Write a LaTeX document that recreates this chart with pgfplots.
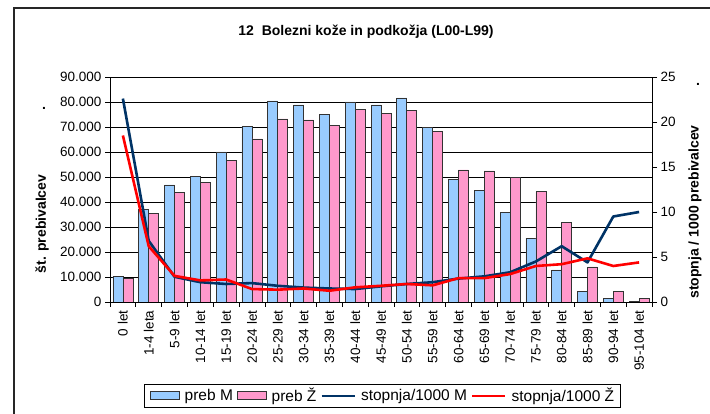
\documentclass[border=0pt]{standalone}
\usepackage{pgfplots}
\pgfplotsset{compat=1.18}
\usepackage{fontspec}
\setmainfont{Liberation Sans}
\definecolor{mblue}{HTML}{99CCFF}
\definecolor{fpink}{HTML}{FF99CC}
\definecolor{navy}{HTML}{003366}
\newcommand{\fs}{\fontsize{13.5}{16}\selectfont}
\pgfplotsset{
  barleg/.style={legend image code/.code={\draw[##1] (0pt,-4pt) rectangle (29pt,4pt);}},
  lineleg/.style={legend image code/.code={\draw[##1] (0pt,0pt) -- (33pt,0pt);}},
}
\begin{document}
\begin{tikzpicture}[x=1pt,y=1pt]
\useasboundingbox (0,0) rectangle (710,414);
\draw[line width=1.2pt, black!85] (14,-2) -- (14,406) -- (712,406);
\node[font=\fontsize{14}{16}\selectfont\bfseries] at (366,382) {12\ \ Bolezni kože in podkožja (L00-L99)};
\node[font=\fontsize{14}{16}\selectfont\bfseries, rotate=90] at (42,190) {št. prebivalcev};
\node[font=\fontsize{14}{16}\selectfont\bfseries] at (44,306) {.};
\node[font=\fontsize{14}{16}\selectfont\bfseries, rotate=90] at (695,202) {stopnja / 1000 prebivalcev};
\node[font=\fontsize{14}{16}\selectfont\bfseries] at (698,330) {.};
\begin{axis}[
  scale only axis, width=542pt, height=225pt,
  at={(110pt,112pt)}, anchor=south west,
  xmin=-0.5, xmax=20.5, ymin=0, ymax=90000,
  axis x line*=bottom, axis y line*=left,
  axis line style={black, line width=0.8pt},
  ytick={0,10000,...,90000},
  yticklabels={0,10.000,20.000,30.000,40.000,50.000,60.000,70.000,80.000,90.000},
  scaled y ticks=false,
  ymajorgrids, grid style={black, line width=0.6pt},
  xtick={0,...,20},
  xticklabels={0 let,1-4 leta,5-9 let,10-14 let,15-19 let,20-24 let,25-29 let,30-34 let,35-39 let,40-44 let,45-49 let,50-54 let,55-59 let,60-64 let,65-69 let,70-74 let,75-79 let,80-84 let,85-89 let,90-94 let,95-104 let},
  minor xtick={-0.5,0.5,...,20.5},
  major x tick style={draw=none},
  tick align=outside, major tick length=5pt, minor tick length=5pt,
  tick style={black, line width=0.7pt},
  xticklabel style={rotate=90, anchor=east, font=\fs},
  yticklabel style={font=\fs},
]
\addplot[ybar, bar width=10pt, bar shift=-5pt, fill=mblue, draw=black!80, line width=0.7pt] coordinates {
(0,10300) (1,36900) (2,46800) (3,50300) (4,60000) (5,70300) (6,80400) (7,78800) (8,74900) (9,80000) (10,78800) (11,81600) (12,69800) (13,48900) (14,44600) (15,35700) (16,25500) (17,12800) (18,4300) (19,1300) (20,350)};
\addplot[ybar, bar width=10pt, bar shift=5pt, fill=fpink, draw=black!80, line width=0.7pt] coordinates {
(0,9300) (1,35300) (2,43900) (3,47700) (4,56700) (5,65200) (6,73200) (7,72800) (8,70700) (9,77000) (10,75400) (11,76600) (12,68100) (13,52800) (14,52400) (15,49900) (16,44100) (17,31700) (18,14000) (19,4300) (20,1300)};
\end{axis}
\begin{axis}[
  scale only axis, width=542pt, height=225pt,
  at={(110pt,112pt)}, anchor=south west,
  xmin=-0.5, xmax=20.5, ymin=0, ymax=25,
  axis x line=none, axis y line*=right,
  axis line style={black, line width=0.8pt},
  ytick={0,5,...,25},
  /pgf/number format/assume math mode=true,
  tick align=outside, major tick length=5pt,
  tick style={black, line width=0.7pt},
  yticklabel style={font=\fs},
  legend columns=4,
  legend style={at={(0.502,-0.364)}, anchor=north, draw=black, line width=0.8pt,
    font=\fontsize{15.5}{18}\selectfont, inner xsep=6pt, inner ysep=1pt,
    nodes={inner xsep=0pt, inner ysep=3pt},
    /tikz/every odd column/.append style={column sep=5pt},
    /tikz/every even column/.append style={column sep=4pt}},
]
\addlegendimage{fill=mblue, draw=black!80, line width=0.7pt, barleg}
\addlegendentry{preb M}
\addlegendimage{fill=fpink, draw=black!80, line width=0.7pt, barleg}
\addlegendentry{preb Ž}
\addplot[navy, line width=2.6pt, line join=round, lineleg] coordinates {
(0,22.6) (1,6.8) (2,2.8) (3,2.2) (4,2.0) (5,2.1) (6,1.8) (7,1.6) (8,1.5) (9,1.44) (10,1.74) (11,2.0) (12,2.2) (13,2.6) (14,2.85) (15,3.3) (16,4.5) (17,6.2) (18,4.4) (19,9.5) (20,10.0)};
\addlegendentry{stopnja/1000 M}
\addplot[red, line width=2.6pt, line join=round, lineleg] coordinates {
(0,18.5) (1,6.2) (2,2.9) (3,2.4) (4,2.5) (5,1.44) (6,1.37) (7,1.5) (8,1.25) (9,1.63) (10,1.8) (11,2.0) (12,1.85) (13,2.65) (14,2.65) (15,3.1) (16,4.0) (17,4.2) (18,4.85) (19,4.0) (20,4.4)};
\addlegendentry{stopnja/1000 Ž}
\end{axis}
\end{tikzpicture}
\end{document}
